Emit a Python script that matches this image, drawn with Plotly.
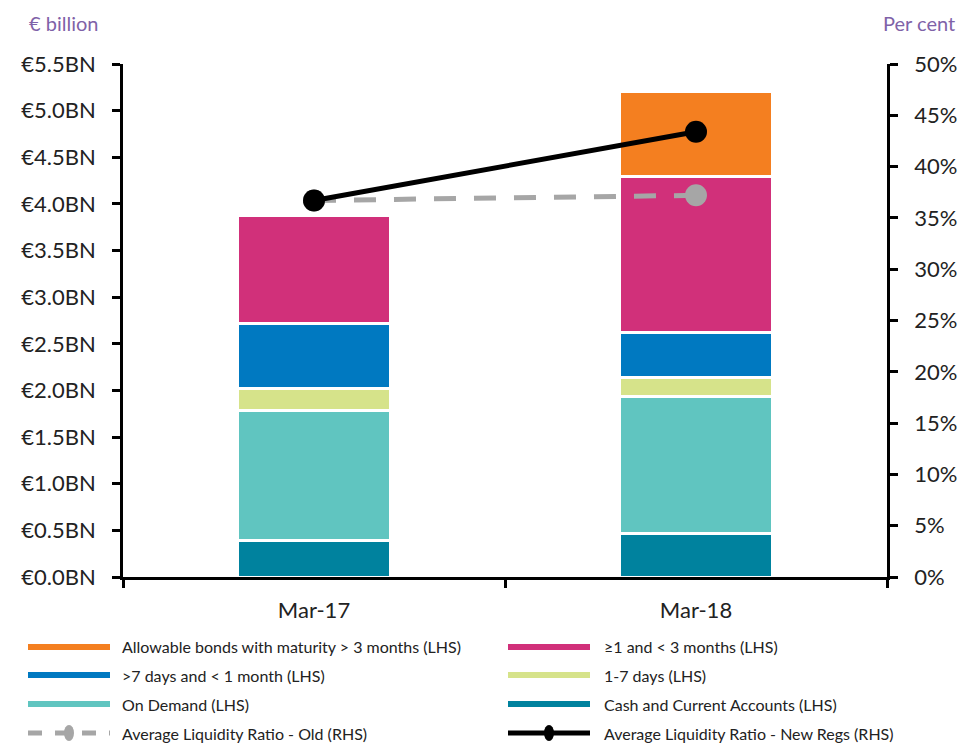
import plotly.graph_objects as go

categories = ["Mar-17", "Mar-18"]

cash = [0.39, 0.47]
on_demand = [1.39, 1.47]
days_1_7 = [0.24, 0.20]
days_7_1m = [0.70, 0.48]
m1_3 = [1.16, 1.67]
bonds = [None, 0.91]

ratio_old = [36.7, 37.2]
ratio_new = [36.7, 43.4]

y_tickvals = [0, 0.5, 1.0, 1.5, 2.0, 2.5, 3.0, 3.5, 4.0, 4.5, 5.0, 5.5]
y_ticktext = ["€0.0BN", "€0.5BN", "€1.0BN", "€1.5BN", "€2.0BN", "€2.5BN",
              "€3.0BN", "€3.5BN", "€4.0BN", "€4.5BN", "€5.0BN", "€5.5BN"]
y2_tickvals = [0, 5, 10, 15, 20, 25, 30, 35, 40, 45, 50]
y2_ticktext = ["0%", "5%", "10%", "15%", "20%", "25%", "30%", "35%", "40%", "45%", "50%"]

series_names = [
    "Cash and Current Accounts (LHS)",
    "On Demand (LHS)",
    "1-7 days (LHS)",
    ">7 days and < 1 month (LHS)",
    "≥1 and < 3 months (LHS)",
    "Allowable bonds with maturity > 3 months (LHS)",
]
series_values = [cash, on_demand, days_1_7, days_7_1m, m1_3, bonds]
series_colors = ["#00829E", "#60C5C0", "#D6E38A", "#0079C1", "#D1307A", "#F47F20"]

FONT = "Lato, 'Open Sans', sans-serif"
PURPLE = "#7F62A8"
GREY = "#A6A6A6"

fig = go.Figure()
for name, vals, col in zip(series_names, series_values, series_colors):
    fig.add_trace(go.Bar(
        x=categories, y=vals, name=name, marker=dict(color=col, line=dict(color="white", width=3)),
        width=0.4, showlegend=False, yaxis="y"))

fig.add_trace(go.Scatter(
    x=categories, y=ratio_old, name="Average Liquidity Ratio - Old (RHS)", yaxis="y2",
    mode="lines+markers", line=dict(color=GREY, width=5, dash="22px,18px"),
    marker=dict(size=22, color=GREY), showlegend=False))
fig.add_trace(go.Scatter(
    x=categories, y=ratio_new, name="Average Liquidity Ratio - New Regs (RHS)", yaxis="y2",
    mode="lines+markers", line=dict(color="black", width=5),
    marker=dict(size=22, color="black"), showlegend=False))

# page body has an 8px margin; lay the figure out in window pixels
OFF = 8
W, H = 978 - OFF, 746 - OFF
PL, PR, PT, PB = 123, 887, 64, 577   # plot area in window pixels
L, R, T, B = PL - OFF, W - (PR - OFF), PT - OFF, H - (PB - OFF)
PW, PH = PR - PL, PB - PT

def px_x(px):
    return (px - PL) / PW

def px_y(py):
    return (PB - py) / PH

shapes = []
annotations = []

legend_items = [
    ("Allowable bonds with maturity > 3 months (LHS)", "#F47F20", "bar"),
    ("≥1 and < 3 months (LHS)", "#D1307A", "bar"),
    (">7 days and < 1 month (LHS)", "#0079C1", "bar"),
    ("1-7 days (LHS)", "#D6E38A", "bar"),
    ("On Demand (LHS)", "#60C5C0", "bar"),
    ("Cash and Current Accounts (LHS)", "#00829E", "bar"),
    ("Average Liquidity Ratio - Old (RHS)", GREY, "old"),
    ("Average Liquidity Ratio - New Regs (RHS)", "black", "new"),
]
row_px = [647, 675, 704, 733]
col_line = [(28, 110, 120), (508, 590, 602)]
for i, (label, col, kind) in enumerate(legend_items):
    r, c = divmod(i, 2)
    x0, x1, xt = col_line[c]
    yy = px_y(row_px[r])
    if kind == "old":
        shapes.append(dict(type="line", xref="paper", yref="paper", x0=px_x(x0), x1=px_x(x1),
                           y0=yy, y1=yy, line=dict(color=col, width=5, dash="14px,13px")))
    else:
        shapes.append(dict(type="line", xref="paper", yref="paper", x0=px_x(x0), x1=px_x(x1),
                           y0=yy, y1=yy, line=dict(color=col, width=6 if kind == "bar" else 5)))
    if kind in ("old", "new"):
        shapes.append(dict(type="circle", xref="paper", yref="paper",
                           xsizemode="pixel", ysizemode="pixel",
                           xanchor=px_x((x0 + x1) / 2), yanchor=yy,
                           x0=-5, x1=5, y0=-8, y1=8, fillcolor=col, line=dict(width=0)))
    annotations.append(dict(text=label, xref="paper", yref="paper", x=px_x(xt), y=yy,
                            xanchor="left", yanchor="middle", showarrow=False,
                            font=dict(family=FONT, size=16, color="#222222")))

annotations.append(dict(text="€ billion", xref="paper", yref="paper", x=px_x(27), y=px_y(OFF + 1),
                        xanchor="left", yanchor="top", showarrow=False,
                        font=dict(family=FONT, size=20, color=PURPLE)))
annotations.append(dict(text="Per cent", xref="paper", yref="paper", x=px_x(957), y=px_y(OFF + 1),
                        xanchor="right", yanchor="top", showarrow=False,
                        font=dict(family=FONT, size=20, color=PURPLE)))

fig.update_layout(
    width=W, height=H,
    margin=dict(l=L, r=R, t=T, b=B),
    paper_bgcolor="white", plot_bgcolor="white",
    barmode="stack",
    showlegend=False,
    font=dict(family=FONT, size=22, color="#222222"),
    xaxis=dict(type="category", range=[-0.5, 1.5], tickson="boundaries", ticks="outside",
               ticklen=8, tickwidth=2.5, tickcolor="black", showline=True, linecolor="black",
               linewidth=2.5, showgrid=False, tickfont=dict(size=22), ticklabelstandoff=12),
    yaxis=dict(range=[0, 5.5], tickvals=y_tickvals, ticktext=y_ticktext, ticks="outside",
               ticklen=8, tickwidth=2.5, tickcolor="black", showline=True, linecolor="black",
               linewidth=2.5, showgrid=False, zeroline=False, ticklabelstandoff=12,
               tickfont=dict(size=22)),
    yaxis2=dict(range=[0, 50], tickvals=y2_tickvals, ticktext=y2_ticktext, overlaying="y",
                side="right", ticks="outside", ticklen=8, tickwidth=2.5, tickcolor="black",
                showline=True, linecolor="black", linewidth=2.5, showgrid=False, zeroline=False,
                ticklabelstandoff=12, tickfont=dict(size=22)),
    shapes=shapes,
    annotations=annotations,
)

fig.write_html("out.html")
